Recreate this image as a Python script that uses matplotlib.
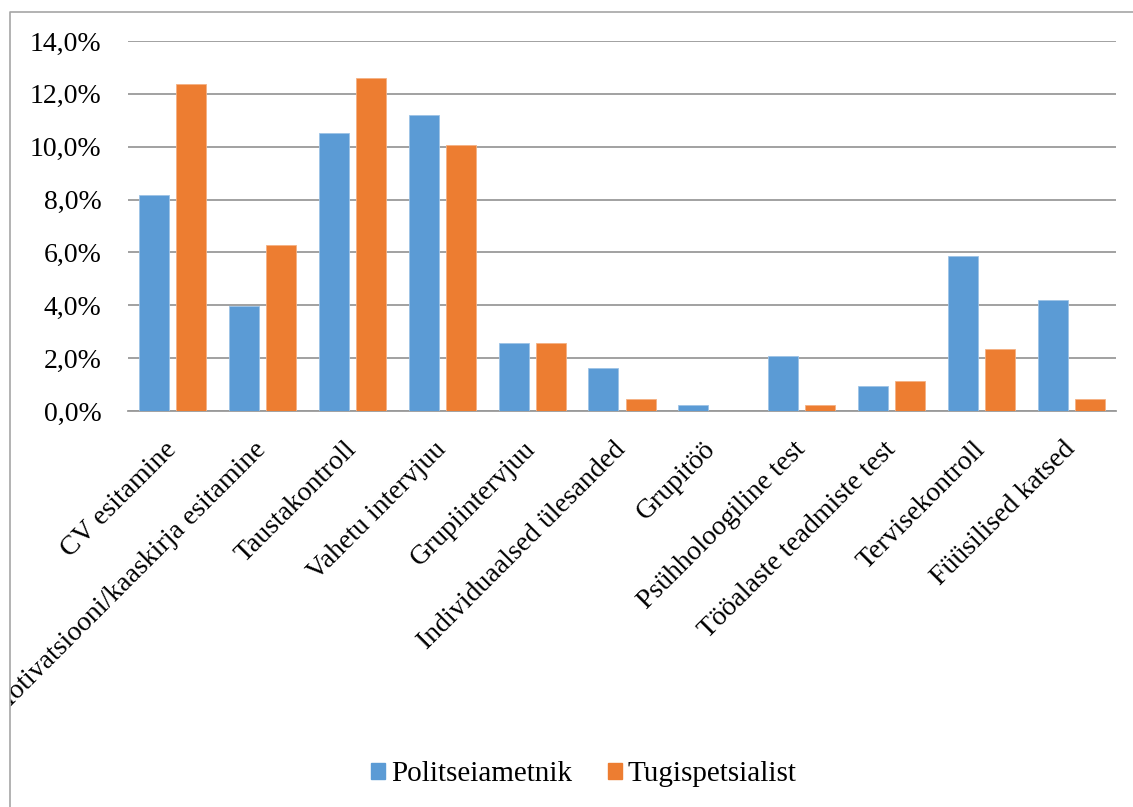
import numpy as np
import matplotlib
matplotlib.use("Agg")
import matplotlib.pyplot as plt
from matplotlib.lines import Line2D
from matplotlib.patches import Patch
from matplotlib.transforms import Bbox, TransformedBbox

plt.rcParams['font.family'] = ['Liberation Serif', 'DejaVu Serif']

# Data (percent)
categories = ['CV esitamine', 'Motivatsiooni/kaaskirja esitamine', 'Taustakontroll',
              'Vahetu intervjuu', 'Grupiintervjuu', 'Individuaalsed ülesanded',
              'Grupitöö', 'Psühholoogiline test', 'Tööalaste teadmiste test',
              'Tervisekontroll', 'Füüsilised katsed']
politseiametnik = [8.17, 3.96, 10.5, 11.2, 2.56, 1.62, 0.22, 2.09, 0.93, 5.85, 4.2]
tugispetsialist = [12.36, 6.29, 12.6, 10.05, 2.56, 0.44, 0.0, 0.22, 1.15, 2.33, 0.44]
y_ticks = [0, 2, 4, 6, 8, 10, 12, 14]
y_labels = ['0,0%', '2,0%', '4,0%', '6,0%', '8,0%', '10,0%', '12,0%', '14,0%']

blue = '#5B9BD5'
orange = '#ED7D31'
grid_col = '#9A9A9A'

W, H = 1133, 807
fig = plt.figure(figsize=(W / 100, H / 100), dpi=100)
ax = fig.add_axes([128 / W, 1 - 411 / H, (1116 - 128) / W, (411 - 41) / H])

x = np.arange(len(categories))
bw = 0.334
off = 0.206
ax.bar(x - off, politseiametnik, bw, color=blue, edgecolor='#9DC3E6', linewidth=0.6, zorder=3)
ax.bar(x + off, tugispetsialist, bw, color=orange, edgecolor='#F4B183', linewidth=0.6, zorder=3)

ax.set_xlim(-0.5, len(categories) - 0.5)
ax.set_ylim(0, 14)
ax.set_yticks(y_ticks)
ax.set_yticklabels(y_labels, fontsize=20)
ax.yaxis.grid(True, color=grid_col, linewidth=1.3)
ax.set_axisbelow(True)
for s in ['top', 'right', 'left']:
    ax.spines[s].set_visible(False)
ax.spines['bottom'].set_color(grid_col)
ax.spines['bottom'].set_linewidth(1.3)
ax.tick_params(axis='both', length=0)
ax.tick_params(axis='y', pad=19)

ax.set_xticks(x)
ax.set_xticklabels(categories, fontsize=20, rotation=45, ha='right',
                   rotation_mode='anchor', va='center')
ax.tick_params(axis='x', pad=25)

# clip labels at the chart frame edge
clip = TransformedBbox(Bbox([[10 / W, 0], [1, 1]]), fig.transFigure)
for t in ax.get_xticklabels():
    t.set_clip_box(clip)
    t.set_clip_on(True)

# chart frame (left and top edges visible)
fig.add_artist(Line2D([10 / W, 10 / W, 1], [0, 1 - 12 / H, 1 - 12 / H],
                      transform=fig.transFigure, color='#A6A6A6', linewidth=1.2))

handles = [Patch(color=blue, label='Politseiametnik'),
           Patch(color=orange, label='Tugispetsialist')]
fig.legend(handles=handles, loc='center', bbox_to_anchor=(584 / W, 1 - 774 / H),
           ncol=2, frameon=False, fontsize=21, handlelength=0.48, handleheight=0.48,
           handletextpad=0.22, columnspacing=1.2)

fig.savefig('out.png', dpi=100)
